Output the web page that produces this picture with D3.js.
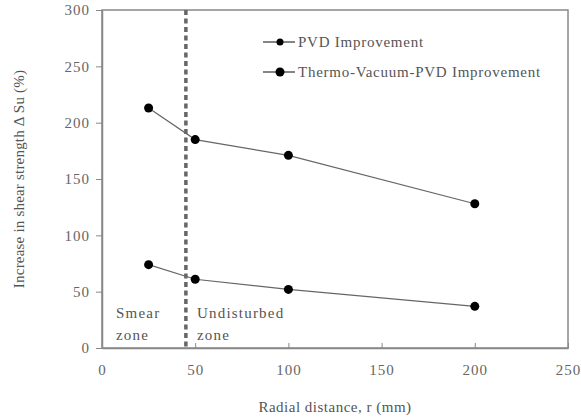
<!DOCTYPE html>
<html>
<head>
<meta charset="utf-8">
<script src="https://cdn.jsdelivr.net/npm/d3@7"></script>
<style>
  body { margin: 0; background: #fff; }
  text { font-family: "Liberation Serif", "DejaVu Serif", serif; fill: #555; }
  .axis path, .axis line { stroke: #888; }
  .axis text { font-size: 15px; fill: #666; letter-spacing: 1px; }
</style>
</head>
<body>
<div class="container"></div>
<script>
const WIDTH = 581, HEIGHT = 420;
const LEFT = 102, TOP = 10, RIGHT = 568, BOTTOM = 348;

var radius = [25, 50, 100, 200];
var pvd = [74, 61, 52, 37];
var thermoPvd = [213, 185, 171, 128];
var seriesNames = ["PVD Improvement", "Thermo-Vacuum-PVD Improvement"];
var xTicks = [0, 50, 100, 150, 200, 250];
var yTicks = [0, 50, 100, 150, 200, 250, 300];
var zoneBoundary = 45;

var svg = d3.select(".container").append("svg")
    .attr("width", WIDTH)
    .attr("height", HEIGHT);

var x = d3.scaleLinear().domain([0, 250]).range([LEFT, RIGHT]);
var y = d3.scaleLinear().domain([0, 300]).range([BOTTOM, TOP]);

// frame
svg.append("rect")
    .attr("x", LEFT).attr("y", TOP)
    .attr("width", RIGHT - LEFT).attr("height", BOTTOM - TOP)
    .attr("fill", "none").attr("stroke", "#888").attr("stroke-width", 1.5);

var xAxis = svg.append("g").attr("class", "axis")
    .attr("transform", "translate(0," + BOTTOM + ")")
    .call(d3.axisBottom(x).tickValues(xTicks).tickSizeInner(-5).tickSizeOuter(0).tickPadding(16));
xAxis.select(".domain").attr("stroke-width", 1.5);

var yAxis = svg.append("g").attr("class", "axis")
    .attr("transform", "translate(" + LEFT + ",0)")
    .call(d3.axisLeft(y).tickValues(yTicks).tickSizeInner(6).tickSizeOuter(0).tickPadding(6));
yAxis.select(".domain").attr("stroke-width", 1.5);

// zone boundary
svg.append("line")
    .attr("x1", x(zoneBoundary)).attr("x2", x(zoneBoundary))
    .attr("y1", y(300)).attr("y2", y(0))
    .attr("stroke", "#666").attr("stroke-width", 3.5)
    .attr("stroke-dasharray", "5,3.5");

var line = d3.line().x(function(d) { return x(d[0]); }).y(function(d) { return y(d[1]); });

[pvd, thermoPvd].forEach(function(values) {
    var pts = radius.map(function(r, i) { return [r, values[i]]; });
    svg.append("path").datum(pts)
        .attr("d", line)
        .attr("fill", "none").attr("stroke", "#666").attr("stroke-width", 1.2);
    svg.selectAll(null).data(pts).enter().append("circle")
        .attr("cx", function(d) { return x(d[0]); })
        .attr("cy", function(d) { return y(d[1]); })
        .attr("r", 4.5)
        .attr("fill", "#000");
});

// legend
seriesNames.forEach(function(name, i) {
    var ly = 42 + i * 30;
    svg.append("line").attr("x1", 263).attr("x2", 295).attr("y1", ly).attr("y2", ly)
        .attr("stroke", "#333").attr("stroke-width", 1.2);
    svg.append("circle").attr("cx", 280).attr("cy", ly).attr("r", i == 0 ? 3.5 : 4.5).attr("fill", "#000");
    svg.append("text").attr("x", 298).attr("y", ly + 5)
        .attr("font-size", 15).attr("letter-spacing", "0.75px")
        .text(name);
});

// zone labels
var zoneText = function(tx, ty, s) {
    svg.append("text").attr("x", tx).attr("y", ty)
        .attr("font-size", 15).attr("letter-spacing", "1.2px").text(s);
};
zoneText(116, 318, "Smear");
zoneText(116, 340, "zone");
zoneText(197, 318, "Undisturbed");
zoneText(197, 340, "zone");

// axis titles
svg.append("text")
    .attr("x", (LEFT + RIGHT) / 2).attr("y", 412)
    .attr("text-anchor", "middle").attr("font-size", 15).attr("letter-spacing", "0.5px")
    .text("Radial distance, r (mm)");
svg.append("text")
    .attr("transform", "translate(24," + ((TOP + BOTTOM) / 2) + ") rotate(-90)")
    .attr("text-anchor", "middle").attr("font-size", 15).attr("letter-spacing", "0.2px")
    .text("Increase in shear strength Δ Su (%)");
</script>
</body>
</html>
